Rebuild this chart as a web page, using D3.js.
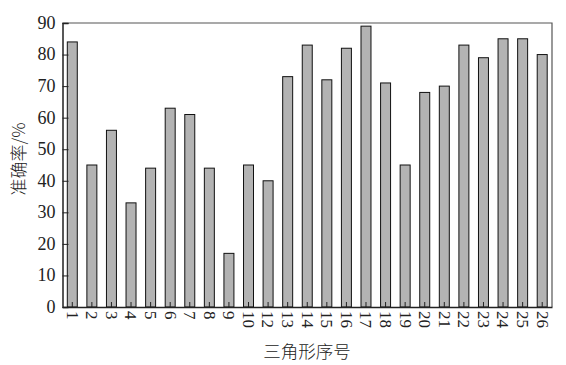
<!DOCTYPE html>
<html>
<head>
<meta charset="utf-8">
<script src="https://cdn.jsdelivr.net/npm/d3@7"></script>
<style>
  body { margin: 0; background: #fff; }
  svg { display: block; }
</style>
</head>
<body>
<svg id="chart" width="566" height="365"></svg>
<script>
// triangle index labels (11 is absent in the original figure)
var labels = ["1","2","3","4","5","6","7","8","9","10","12","13","14","15","16","17","18","19","20","21","22","23","24","25","26"];
var accuracy = [84,45,56,33,44,63,61,44,17,45,40,73,83,72,82,89,71,45,68,70,83,79,85,85,80];
var yTicks = [0,10,20,30,40,50,60,70,80,90];

var numFont = "'Liberation Serif', 'Times New Roman', 'DejaVu Serif', serif";
var cjkFont = "'Noto Sans CJK SC', sans-serif";

var margin = {left: 62.5, right: 14, top: 23, bottom: 58};
var W = 566, H = 365;
var svg = d3.select("#chart");

var x = d3.scaleBand()
	.domain(labels)
	.range([margin.left, W - margin.right])
	.paddingInner(0.49)
	.paddingOuter(0.245);
var y = d3.scaleLinear()
	.domain([0, 90])
	.range([H - margin.bottom, margin.top]);

// bars
svg.append("g").selectAll("rect")
	.data(accuracy)
	.enter().append("rect")
		.attr("x", function(d, i) { return x(labels[i]); })
		.attr("y", function(d) { return y(d); })
		.attr("width", x.bandwidth())
		.attr("height", function(d) { return y(0) - y(d); })
		.attr("fill", "#b3b3b3")
		.attr("stroke", "#111")
		.attr("stroke-width", 1);

// frame (top and right)
svg.append("path")
	.attr("d", "M" + margin.left + "," + y(90) + "H" + (W - margin.right) + "V" + y(0))
	.attr("fill", "none")
	.attr("stroke", "#555")
	.attr("stroke-width", 1.2);

// y axis, ticks pointing inward
var yAxis = svg.append("g")
	.attr("transform", "translate(" + margin.left + ",0)")
	.call(d3.axisRight(y).tickValues(yTicks).tickSize(6).tickFormat(""));
yAxis.select(".domain").attr("stroke", "#222").attr("stroke-width", 1.5);
yAxis.selectAll(".tick line").attr("stroke", "#222");
svg.append("g").selectAll("text")
	.data(yTicks)
	.enter().append("text")
		.attr("font-family", numFont)
		.attr("font-size", 18)
		.attr("fill", "#222")
		.attr("x", margin.left - 7)
		.attr("y", function(d) { return y(d); })
		.attr("dy", "0.33em")
		.attr("text-anchor", "end")
		.text(function(d) { return d; });

// x axis, ticks pointing inward
var xAxis = svg.append("g")
	.attr("transform", "translate(0," + y(0) + ")")
	.call(d3.axisTop(x).tickSize(5).tickSizeOuter(0).tickFormat(""));
xAxis.select(".domain").attr("stroke", "#222").attr("stroke-width", 1.5);
xAxis.selectAll(".tick line").attr("stroke", "#222");
svg.append("g").selectAll("text")
	.data(labels)
	.enter().append("text")
		.attr("font-family", numFont)
		.attr("font-size", 17)
		.attr("fill", "#222")
		.attr("transform", function(d) {
			return "translate(" + (x(d) + x.bandwidth() / 2) + "," + (y(0) + 4) + ") rotate(90)";
		})
		.attr("dy", "0.33em")
		.attr("text-anchor", "start")
		.text(function(d) { return d; });

// axis titles
svg.append("text")
	.attr("font-family", cjkFont)
	.attr("font-size", 17)
	.attr("font-weight", 300)
	.attr("fill", "#222")
	.attr("transform", "translate(19,159) rotate(-90)")
	.attr("dy", "0.35em")
	.attr("text-anchor", "middle")
	.text("准确率/%");
svg.append("text")
	.attr("font-family", cjkFont)
	.attr("font-size", 17.5)
	.attr("font-weight", 300)
	.attr("fill", "#222")
	.attr("x", 307)
	.attr("y", 352)
	.attr("dy", "0.35em")
	.attr("text-anchor", "middle")
	.text("三角形序号");
</script>
</body>
</html>
